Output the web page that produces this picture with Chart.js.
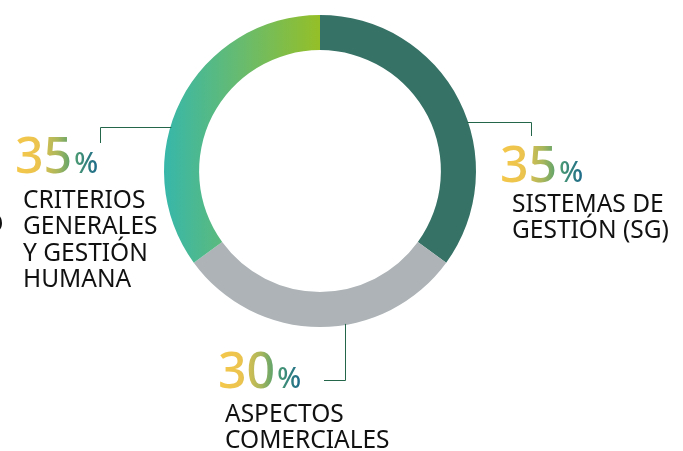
<!DOCTYPE html>
<html>
<head>
<meta charset="utf-8">
<title>Distribución</title>
<script src="https://cdn.jsdelivr.net/npm/chart.js@4.4.1/dist/chart.umd.min.js"></script>
<style>
  html, body { margin: 0; padding: 0; background: #fff; }
  #wrap { width: 683px; height: 451px; position: relative; }
</style>
</head>
<body>
<div id="wrap"><canvas id="donut"></canvas></div>
<script>
const categories = ['SISTEMAS DE GESTIÓN (SG)', 'ASPECTOS COMERCIALES', 'CRITERIOS GENERALES Y GESTIÓN HUMANA'];
const values = [35, 30, 35];
const labelLines = [
  ['SISTEMAS DE', 'GESTIÓN (SG)'],
  ['ASPECTOS', 'COMERCIALES'],
  ['CRITERIOS', 'GENERALES', 'Y GESTIÓN', 'HUMANA']
];

const FONT = '"Noto Sans", "Open Sans", sans-serif';
const LINE_COLOR = '#23664a';

// where each callout sits (leader line + number + text)
const callouts = [
  { dy: -49, side: 1, elbowX: 531.5, elbowY: 136, numX: 500, numY: 182, txtX: 512, txtY: 212 },
  { dx: 25.5, vertical: true, endY: 380.5, endX: 324, numX: 218, numY: 388, txtX: 225, txtY: 422 },
  { dy: -44, side: -1, elbowX: 100.5, elbowY: 143, numX: 15, numY: 173, txtX: 23, txtY: 208 }
];

function segColor(ctx) {
  const i = ctx.dataIndex;
  if (i === 0) return '#377266';
  if (i === 1) return '#adb3b6';
  const area = ctx.chart.chartArea;
  if (!area) return '#5cba8a';
  const cx = (area.left + area.right) / 2;
  const g = ctx.chart.ctx.createLinearGradient(area.left, 0, cx, 0);
  g.addColorStop(0, '#37b7aa');
  g.addColorStop(0.5, '#68bb6e');
  g.addColorStop(1, '#95bf27');
  return g;
}

const calloutPlugin = {
  id: 'callouts',
  afterDraw(chart) {
    const c = chart.ctx;
    const arc = chart.getDatasetMeta(0).data[0];
    const cx = arc.x, cy = arc.y, r = arc.outerRadius;

    c.save();
    c.strokeStyle = LINE_COLOR;
    c.lineWidth = 1;
    callouts.forEach(co => {
      c.beginPath();
      if (co.vertical) {
        const sx = cx + co.dx;
        const sy = cy + Math.sqrt(r * r - co.dx * co.dx) - 1;
        c.moveTo(sx, sy);
        c.lineTo(sx, co.endY);
        c.lineTo(co.endX, co.endY);
      } else {
        const sy = Math.round(cy + co.dy) + 0.5;
        const sx = cx + co.side * (Math.sqrt(r * r - co.dy * co.dy) - 1);
        c.moveTo(sx, sy);
        c.lineTo(co.elbowX, sy);
        c.lineTo(co.elbowX, co.elbowY);
      }
      c.stroke();
    });

    c.textBaseline = 'alphabetic';
    c.textAlign = 'left';
    values.forEach((v, i) => {
      const co = callouts[i];
      const num = String(v);
      c.font = '500 50px ' + FONT;
      const nw = c.measureText(num).width;
      c.font = '500 28px ' + FONT;
      const pw = c.measureText('%').width;
      const total = nw + 2 + pw;
      const g = c.createLinearGradient(co.numX, 0, co.numX + total, 0);
      g.addColorStop(0, '#f5c84a');
      g.addColorStop(0.28, '#ebc34e');
      g.addColorStop(0.52, '#a7b65c');
      g.addColorStop(0.7, '#4f9f6f');
      g.addColorStop(1, '#1c698c');
      c.fillStyle = g;
      c.font = '500 50px ' + FONT;
      c.fillText(num, co.numX, co.numY);
      c.font = '500 28px ' + FONT;
      c.fillText('%', co.numX + nw + 2, co.numY);

      c.fillStyle = '#111';
      c.font = '400 24.5px ' + FONT;
      labelLines[i].forEach((line, k) => {
        c.fillText(line, co.txtX, co.txtY + k * 26.3);
      });
    });

    // cut-off glyph at the left border
    c.fillStyle = '#111';
    c.font = '400 25px ' + FONT;
    c.fillText('O', -16, 232);
    c.restore();
  }
};

new Chart(document.getElementById('donut'), {
  type: 'doughnut',
  data: {
    labels: categories,
    datasets: [{
      data: values,
      backgroundColor: segColor,
      borderWidth: 0
    }]
  },
  options: {
    responsive: true,
    maintainAspectRatio: false,
    animation: false,
    cutout: '77.5%',
    layout: { padding: { left: 164, right: 207, top: 15, bottom: 124 } },
    plugins: {
      legend: { display: false },
      tooltip: { enabled: false }
    }
  },
  plugins: [calloutPlugin]
});
</script>
</body>
</html>
